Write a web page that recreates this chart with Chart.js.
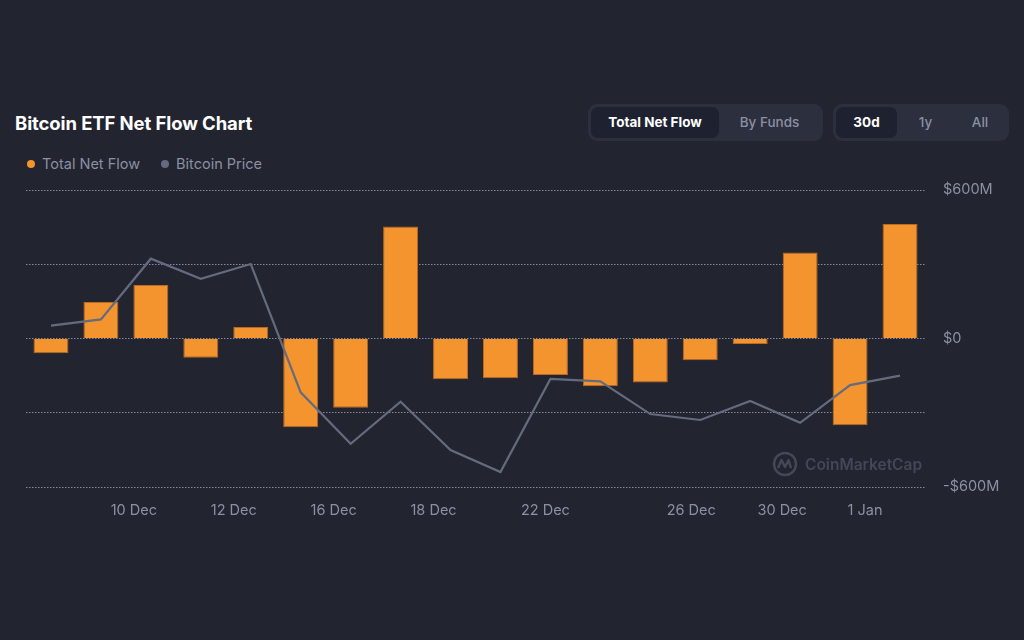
<!DOCTYPE html>
<html>
<head>
<meta charset="utf-8">
<title>Bitcoin ETF Net Flow Chart</title>
<script src="https://cdn.jsdelivr.net/npm/chart.js@4"></script>
<style>
    body { margin: 0; width: 1024px; height: 640px; background: #222430; font-family: Inter, "Noto Sans", sans-serif; overflow: hidden; position: relative; }
    .title { position: absolute; left: 15px; top: 112px; color: #fff; font-size: 18.5px; font-weight: 700; letter-spacing: -0.1px; }
    .group { position: absolute; top: 104px; height: 37px; box-sizing: border-box; padding: 3px; background: #2c2f3e; border-radius: 9px; display: flex; }
    .group div { height: 31px; line-height: 31px; text-align: center; font-size: 13.5px; font-weight: 500; color: #8a8fa3; border-radius: 7px; }
    .group div.active { background: #1e2130; color: #fff; font-weight: 700; }
    .legend { position: absolute; left: 27px; top: 155px; display: flex; font-size: 14.5px; color: #8b90a2; }
    .legend span { display: flex; align-items: center; margin-right: 21px; }
    .legend i { width: 8px; height: 8px; border-radius: 50%; margin-right: 7px; display: inline-block; }
    .chart-box { position: absolute; left: 0; top: 170px; width: 1024px; height: 350px; }
    .watermark { position: absolute; left: 772px; top: 451px; display: flex; align-items: center; color: #434757; font-size: 15.5px; font-weight: 600; }
    .watermark svg { margin-right: 7px; }
</style>
</head>
<body>

<div class="title">Bitcoin ETF Net Flow Chart</div>

<div class="group" style="left:588px; width:235px;">
    <div class="active" style="width:128px;">Total Net Flow</div>
    <div style="width:101px;">By Funds</div>
</div>
<div class="group" style="left:833px; width:176px;">
    <div class="active" style="width:61px;">30d</div>
    <div style="width:57px;">1y</div>
    <div style="width:52px;">All</div>
</div>

<div class="legend" id="legend"></div>

<div class="chart-box"><canvas id="myChart"></canvas></div>

<div class="watermark">
    <svg width="26" height="26" viewBox="0 0 26 26">
        <circle cx="13" cy="13" r="11" fill="none" stroke="#434757" stroke-width="2.5"/>
        <path d="M6 17 L9.5 9 L13 16 L16.5 9 L19 17" fill="none" stroke="#434757" stroke-width="2.5" stroke-linejoin="round"/>
    </svg>
    CoinMarketCap
</div>

<script>
// values (net flow in $M, price in USD)
const days = ['9 Dec', '10 Dec', '11 Dec', '12 Dec', '13 Dec', '16 Dec', '17 Dec', '18 Dec', '19 Dec',
    '20 Dec', '23 Dec', '24 Dec', '26 Dec', '27 Dec', '30 Dec', '31 Dec', '2 Jan', '3 Jan'];
const netFlow = [-60, 147, 216, -78, 46, -359, -280, 453, -165, -161, -147, -193, -178, -88, -22, 347, -351, 463];
const btcPrice = [96690, 97030, 100300, 99220, 100010, 93100, 90330, 92600, 89990, 88810,
    93820, 93690, 91930, 91610, 92630, 91460, 93490, 94000];

// x labels as drawn on the source chart, with their place along the day index
const xLabels = ['10 Dec', '12 Dec', '16 Dec', '18 Dec', '22 Dec', '26 Dec', '30 Dec', '1 Jan'];
const xLabelPos = [1.66, 3.66, 5.66, 7.66, 9.9, 12.82, 14.64, 16.3];

const yTicks = [-600, -300, 0, 300, 600];
const yLabels = ['-$600M', '', '$0', '', '$600M'];

const seriesNames = ['Total Net Flow', 'Bitcoin Price'];
const seriesColors = ['#f4942f', '#656b7e'];

let legend = document.getElementById('legend');
seriesNames.forEach(function(name, i) {
    legend.innerHTML += '<span><i style="background:' + seriesColors[i] + '"></i>' + name + '</span>';
});

let ctx = document.getElementById('myChart').getContext('2d');
var myChart = new Chart(ctx, {
    type: 'bar',
    data: {
        labels: days,
        datasets: [{
            label: seriesNames[0],
            data: netFlow,
            backgroundColor: seriesColors[0],
            borderColor: '#b96a24',
            borderWidth: 1,
            barPercentage: 0.7,
            categoryPercentage: 1,
            yAxisID: 'y',
            order: 1
        }, {
            type: 'line',
            label: seriesNames[1],
            data: btcPrice,
            borderColor: seriesColors[1],
            borderWidth: 2.2,
            pointRadius: 0,
            tension: 0,
            yAxisID: 'price',
            order: 0
        }]
    },
    options: {
        responsive: true,
        maintainAspectRatio: false,
        animation: false,
        layout: { padding: { left: 26, right: 9, top: 20, bottom: 2 } },
        plugins: {
            legend: { display: false },
            tooltip: { enabled: false }
        },
        scales: {
            x: {
                display: false
            },
            xt: {
                type: 'linear',
                position: 'bottom',
                offset: false,
                min: -0.5,
                max: 17.5,
                grid: { display: false, drawTicks: false },
                border: { display: false },
                afterBuildTicks: function(scale) {
                    scale.ticks = xLabelPos.map(function(v) { return { value: v }; });
                },
                afterFit: function(scale) { scale.height = 31; },
                ticks: {
                    autoSkip: false,
                    maxRotation: 0,
                    padding: 15,
                    color: '#8b90a2',
                    font: { family: 'Inter', size: 14.5 },
                    callback: function(value, index) { return xLabels[index]; }
                }
            },
            y: {
                position: 'right',
                min: -600,
                max: 600,
                border: { display: false, dash: [1.5, 1.5] },
                grid: {
                    color: '#868a96',
                    lineWidth: 1,
                    drawTicks: false
                },
                afterBuildTicks: function(scale) {
                    scale.ticks = yTicks.map(function(v) { return { value: v }; });
                },
                afterFit: function(scale) {
                    scale.width = 90;
                    scale.paddingTop = 0;
                    scale.paddingBottom = 0;
                },
                ticks: {
                    padding: 18,
                    color: '#8b90a2',
                    font: { family: 'Inter', size: 14.5 },
                    callback: function(value, index) { return yLabels[index]; }
                }
            },
            price: {
                display: false,
                min: 88000,
                max: 104000
            }
        }
    }
});
</script>
</body>
</html>
